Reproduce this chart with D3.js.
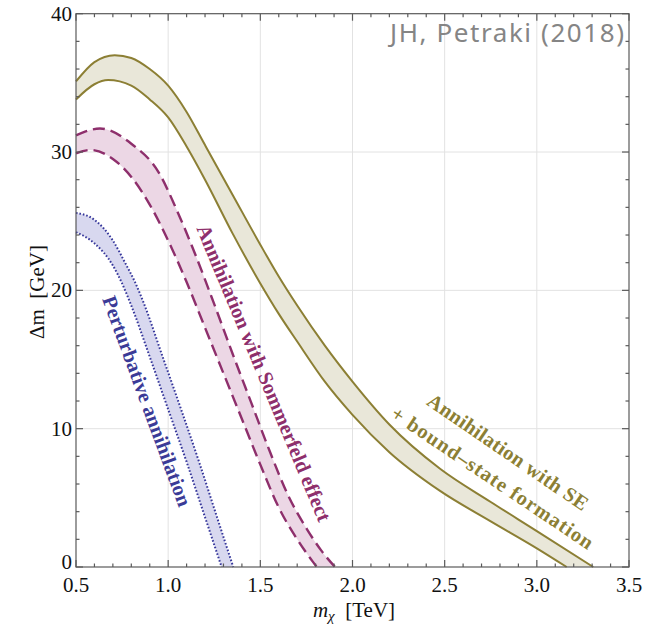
<!DOCTYPE html>
<html>
<head>
<meta charset="utf-8">
<script src="https://cdn.jsdelivr.net/npm/d3@7"></script>
<style>
    body { margin: 0; background: #fff; }
    svg { display: block; }
    .tick-label { font-family: "Liberation Serif", serif; font-size: 21px; fill: #111; }
    .axis-title { font-family: "Liberation Serif", serif; font-size: 21px; fill: #111; }
    .curve-label { font-family: "Liberation Serif", serif; font-weight: bold; font-size: 20.5px; }
</style>
</head>
<body>
<svg class="chart" width="647" height="629"></svg>
<script>

// values: [m_chi (TeV), delta m (GeV)]

const xTicks = [0.5, 1.0, 1.5, 2.0, 2.5, 3.0, 3.5];
const yTicks = [0, 10, 20, 30, 40];

const seBsfUpper = [
    [0.5, 35.1], [0.6, 36.5], [0.71, 37.0], [0.8, 36.8], [0.9, 36.0], [1.0, 34.8],
    [1.1, 32.9], [1.2, 30.5], [1.35, 26.9], [1.5, 23.3], [1.6, 21.0], [1.7, 18.9],
    [1.85, 16.0], [2.0, 13.4], [2.2, 10.3], [2.475, 7.1], [2.75, 4.7], [3.0, 2.6], [3.306, 0]
];

const seBsfLower = [
    [0.5, 33.8], [0.6, 34.9], [0.674, 35.2], [0.8, 34.8], [0.9, 33.8], [1.0, 32.5],
    [1.1, 30.4], [1.2, 28.0], [1.35, 24.1], [1.5, 20.5], [1.6, 18.3], [1.7, 16.3],
    [1.85, 13.4], [2.0, 11.0], [2.2, 8.3], [2.475, 5.5], [2.75, 3.3], [3.0, 1.35], [3.162, 0]
];

const sommerUpper = [
    [0.5, 31.2], [0.63, 31.7], [0.8, 30.6], [0.95, 28.5], [1.05, 25.7], [1.15, 22.5],
    [1.25, 19.0], [1.35, 15.4], [1.45, 11.9], [1.55, 8.4], [1.65, 5.2], [1.75, 2.8],
    [1.83, 1.2], [1.905, 0]
];

const sommerLower = [
    [0.5, 29.9], [0.58, 30.15], [0.7, 29.5], [0.8, 28.2], [0.9, 26.2], [1.0, 23.6],
    [1.1, 20.6], [1.2, 17.3], [1.3, 14.0], [1.4, 10.7], [1.5, 7.4], [1.6, 4.3],
    [1.7, 2.0], [1.806, 0]
];

const pertUpper = [
    [0.5, 25.6], [0.6, 25.1], [0.7, 23.6], [0.77, 21.9], [0.82, 20.6], [0.87, 19.0],
    [0.97, 15.2], [1.07, 11.4], [1.17, 7.5], [1.265, 3.6], [1.353, 0]
];

const pertLower = [
    [0.5, 24.2], [0.6, 23.4], [0.7, 21.8], [0.75, 20.5], [0.8, 18.9], [0.9, 15.2],
    [1.0, 11.4], [1.1, 7.6], [1.2, 3.6], [1.29, 0]
];

const bands = [
    { name: 'se-bsf', upper: seBsfUpper, lower: seBsfLower, stroke: '#8c7f34', fill: '#e9e7d9', dash: null, width: 2 },
    { name: 'sommerfeld', upper: sommerUpper, lower: sommerLower, stroke: '#8e2f6c', fill: '#ecd7e5', dash: '12,6', width: 2.4 },
    { name: 'perturbative', upper: pertUpper, lower: pertLower, stroke: '#36379b', fill: '#d8d8ef', dash: '1.6,1.9', width: 2 }
];

const labels = [
    { text: 'Perturbative annihilation', x: 147, y: 401, angle: 69.8, color: '#3b3b97', spacing: 0 },
    { text: 'Annihilation with Sommerfeld effect', x: 264, y: 373, angle: 67.4, color: '#8e2f6c', spacing: 0 },
    { text: 'Annihilation with SE', x: 508, y: 452, angle: 34.4, color: '#8c7f34', spacing: 0.3 },
    { text: '+ bound\u2013state formation', x: 493, y: 478, angle: 33.9, color: '#8c7f34', spacing: 1 }
];

const main = {};

init();

function init() {

    main.svg = d3.select('.chart');

    main.margin = { left: 76, right: 629, top: 13.7, bottom: 567 };

    main.x = d3.scaleLinear().domain([0.5, 3.5]).range([main.margin.left, main.margin.right]);
    main.y = d3.scaleLinear().domain([0, 40]).range([main.margin.bottom, main.margin.top]);

    draw_grid();
    draw_bands();
    draw_frame();
    draw_labels();

}

function draw_grid() {

    const g = main.svg.append('g').attr('class', 'grid');

    g.selectAll('line.gx')
        .data(xTicks.slice(1, -1))
        .join('line')
        .attr('x1', d => main.x(d)).attr('x2', d => main.x(d))
        .attr('y1', main.margin.top).attr('y2', main.margin.bottom)
        .attr('stroke', '#e2e2e2').attr('stroke-width', 1);

    g.selectAll('line.gy')
        .data(yTicks.slice(1, -1))
        .join('line')
        .attr('y1', d => main.y(d)).attr('y2', d => main.y(d))
        .attr('x1', main.margin.left).attr('x2', main.margin.right)
        .attr('stroke', '#e2e2e2').attr('stroke-width', 1);

}

function draw_bands() {

    const line = d3.line()
        .x(d => main.x(d[0]))
        .y(d => main.y(d[1]))
        .curve(d3.curveMonotoneX);

    const g = main.svg.append('g').attr('class', 'bands');

    bands.forEach(band => {

        // fill: upper curve forward, lower curve back
        const up = line(band.upper);
        const low = line(band.lower.slice().reverse());

        g.append('path')
            .attr('d', up + 'L' + low.slice(1) + 'Z')
            .attr('fill', band.fill)
            .attr('stroke', 'none');

        [band.upper, band.lower].forEach(pts => {

            g.append('path')
                .attr('d', line(pts))
                .attr('fill', 'none')
                .attr('stroke', band.stroke)
                .attr('stroke-width', band.width)
                .attr('stroke-dasharray', band.dash);

        });

    });

}

function draw_frame() {

    const m = main.margin;
    const g = main.svg.append('g').attr('class', 'frame');

    const xMinor = d3.range(5, 36).map(d => d / 10);
    const yMinor = d3.range(0, 41, 2);

    const tick = (v, isX, len, side) => {
        if (isX) {
            const px = main.x(v);
            const y0 = side == 'bottom' ? m.bottom : m.top;
            const dir = side == 'bottom' ? -1 : 1;
            g.append('line').attr('x1', px).attr('x2', px).attr('y1', y0).attr('y2', y0 + dir * len);
        } else {
            const py = main.y(v);
            const x0 = side == 'left' ? m.left : m.right;
            const dir = side == 'left' ? 1 : -1;
            g.append('line').attr('y1', py).attr('y2', py).attr('x1', x0).attr('x2', x0 + dir * len);
        }
    };

    xMinor.forEach(v => {
        const major = xTicks.some(t => Math.abs(t - v) < 1e-6);
        tick(v, true, major ? 7 : 3.5, 'bottom');
        tick(v, true, major ? 7 : 3.5, 'top');
    });

    yMinor.forEach(v => {
        const major = yTicks.includes(v);
        tick(v, false, major ? 7 : 3.5, 'left');
        tick(v, false, major ? 7 : 3.5, 'right');
    });

    g.append('rect')
        .attr('x', m.left).attr('y', m.top)
        .attr('width', m.right - m.left).attr('height', m.bottom - m.top)
        .attr('fill', 'none');

    g.selectAll('line, rect').attr('stroke', '#5a5a5a').attr('stroke-width', 1.2);

    main.svg.append('g')
        .selectAll('text')
        .data(xTicks)
        .join('text')
        .attr('class', 'tick-label')
        .attr('x', d => main.x(d))
        .attr('y', 592)
        .attr('text-anchor', 'middle')
        .text(d => d3.format('.1f')(d));

    main.svg.append('g')
        .selectAll('text')
        .data(yTicks)
        .join('text')
        .attr('class', 'tick-label')
        .attr('x', 72)
        .attr('y', d => main.y(d) + (d == 0 ? 1.5 : 7))
        .attr('text-anchor', 'end')
        .text(d => d);

    // axis titles
    const xt = main.svg.append('text')
        .attr('class', 'axis-title')
        .attr('x', 354)
        .attr('y', 617)
        .attr('text-anchor', 'middle');
    xt.append('tspan').attr('font-style', 'italic').text('m');
    xt.append('tspan').attr('font-style', 'italic').attr('font-size', 15).attr('dy', 4).text('\u03c7');
    xt.append('tspan').attr('dy', -4).text('\u2002[TeV]');

    main.svg.append('text')
        .attr('class', 'axis-title')
        .attr('transform', 'translate(44,292) rotate(-90)')
        .attr('text-anchor', 'middle')
        .text('\u0394m\u2002[GeV]');

    main.svg.append('text')
        .attr('x', 624)
        .attr('y', 42)
        .attr('text-anchor', 'end')
        .attr('font-family', '"Noto Sans", sans-serif')
        .attr('font-size', 26)
        .attr('textLength', 234)
        .attr('lengthAdjust', 'spacing')
        .attr('fill', '#858585')
        .text('JH, Petraki (2018)');

}

function draw_labels() {

    main.svg.append('g')
        .selectAll('text')
        .data(labels)
        .join('text')
        .attr('class', 'curve-label')
        .attr('transform', d => `translate(${d.x},${d.y}) rotate(${d.angle})`)
        .attr('text-anchor', 'middle')
        .attr('dominant-baseline', 'central')
        .attr('letter-spacing', d => d.spacing)
        .attr('fill', d => d.color)
        .text(d => d.text);

}

</script>
</body>
</html>
